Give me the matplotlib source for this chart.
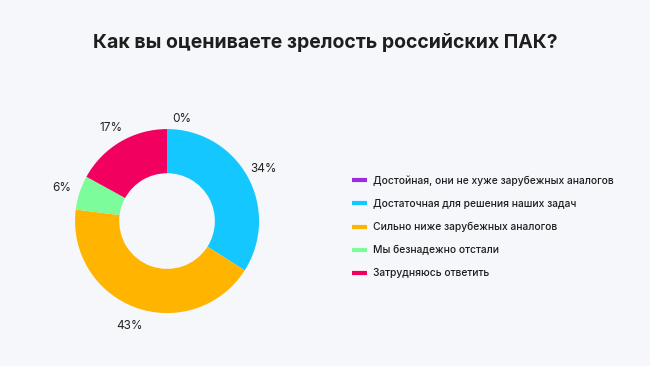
import matplotlib
matplotlib.use("Agg")
from matplotlib import pyplot as plt
from matplotlib.lines import Line2D

title = "Как вы оцениваете зрелость российских ПАК?"
categories = [
    "Достойная, они не хуже зарубежных аналогов",
    "Достаточная для решения наших задач",
    "Сильно ниже зарубежных аналогов",
    "Мы безнадежно отстали",
    "Затрудняюсь ответить",
]
values = [0, 34, 43, 6, 17]
colors = ["#9b2de0", "#14c8ff", "#ffb400", "#7dfc9b", "#f2005f"]

bg = "#f6f7fb"
plt.rcParams['font.family'] = ['Inter', 'DejaVu Sans']

fig = plt.figure(figsize=(6.5, 3.66), dpi=100, facecolor=bg)

# donut
w = 0.368
h = w * 650 / 366
ax = fig.add_axes([0.257 - w / 2, 0.396 - h / 2, w, h])
ax.set_facecolor(bg)
labels = ["%d%%" % v for v in values]
wedges, texts = ax.pie(values, colors=colors, startangle=90, counterclock=False,
                       labels=labels, labeldistance=1.2,
                       wedgeprops=dict(width=0.48, linewidth=0),
                       textprops=dict(fontsize=8.5, color="#222222"))
# the 0% label sits a bit right of the top, like in the original
texts[0].set_position((0.16, 1.13))
for t in texts:
    t.set_horizontalalignment("center")
    t.set_verticalalignment("center_baseline")
ax.set_xlim(-1.3, 1.3)
ax.set_ylim(-1.3, 1.3)
ax.set_aspect("equal")
ax.axis("off")

# title
fig.text(0.5, 1 - 42 / 366, title, ha="center", va="center",
         fontsize=14, fontweight="bold", color="#1e1e1e")

# legend
handles = [Line2D([0], [0], color=c, lw=3, solid_capstyle="butt") for c in colors]
leg = fig.legend(handles, categories, loc="upper left",
                 bbox_to_anchor=(348 / 650, 1 - 171 / 366),
                 frameon=False, prop=dict(size=7.4, weight="medium"),
                 handlelength=1.4, handletextpad=0.6, labelspacing=1.27,
                 borderaxespad=0)
for t in leg.get_texts():
    t.set_color("#1e1e1e")

fig.savefig("out.png", dpi=100, facecolor=bg)
